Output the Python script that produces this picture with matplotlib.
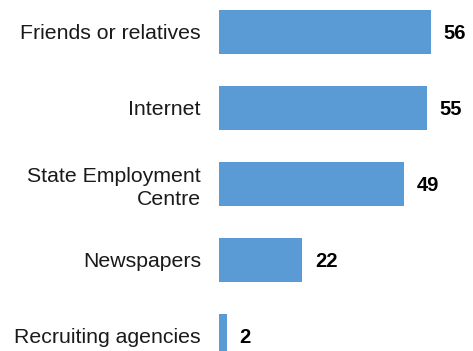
import matplotlib.pyplot as plt
import numpy as np

plt.rcParams['font.family'] = ['Liberation Sans', 'DejaVu Sans']

sources = ["Friends or relatives", "Internet", "State Employment\nCentre",
           "Newspapers", "Recruiting agencies"]
shares = [56, 55, 49, 22, 2]

fig = plt.figure(figsize=(4.73, 3.51), dpi=100)
ax = fig.add_axes([219 / 473, 0, 1 - 219 / 473, 1])

pos = np.arange(len(sources))
ax.barh(pos, shares, height=0.572, color="#5B9BD5")

for p, v in zip(pos, shares):
    ax.annotate(str(v), (v, p), xytext=(9, -1.5), textcoords="offset points",
                ha="left", va="center", fontsize=14.5, fontweight="bold")

ax.set_xlim(0, 67.1)
ax.set_ylim(4.2, -0.418)
ax.set_yticks(pos)
ax.set_yticklabels(sources, fontsize=15.3, ha="right", color="#1a1a1a",
                   linespacing=1.3)
ax.tick_params(axis="y", length=0, pad=13)
ax.set_xticks([])
for s in ax.spines.values():
    s.set_visible(False)

fig.savefig("out.png", dpi=100)
